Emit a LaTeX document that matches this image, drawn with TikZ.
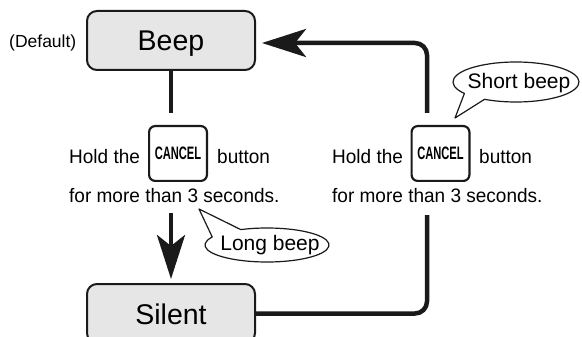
\documentclass[tikz,border=0pt]{standalone}
\usepackage{fontspec}
\setmainfont{Liberation Sans}
\newfontfamily\cancelfont[FakeStretch=0.62]{Liberation Sans}
\newfontfamily\labelfont[FakeStretch=0.975]{Liberation Sans}
\usetikzlibrary{arrows.meta,calc}
\definecolor{ink}{HTML}{1A1A1A}
\definecolor{boxfill}{HTML}{E6E6E6}
\begin{document}
\begin{tikzpicture}[x=1pt,y=-1pt,
  state/.style={draw=ink, line width=2pt, fill=boxfill, rounded corners=10pt,
    minimum width=168pt, minimum height=59pt, inner sep=0pt,
    text height=21pt, text depth=-1pt,
    font=\fontsize{28.5}{30}\selectfont},
  keybox/.style={draw=ink, line width=2.2pt, rounded corners=6pt,
    minimum width=57.8pt, minimum height=54.8pt, inner sep=0pt,
    font=\cancelfont\bfseries\fontsize{18}{20}\selectfont},
  lbl/.style={anchor=base west, inner sep=0pt, font=\labelfont\fontsize{19.5}{21}\selectfont},
  flow/.style={line width=4.5pt, draw=ink},
  tip/.style={-{Stealth[length=44pt, width=28pt, inset=11pt]}},
  bubble/.style={draw=ink, line width=1.2pt, fill=white, line join=round},
  btext/.style={inner sep=0pt, font=\fontsize{21}{23}\selectfont},
]
\useasboundingbox (0,0) rectangle (582,337);
\clip (0,0) rectangle (582,337);

% states
\node[state] (beep) at (171,40.5) {Beep};
\node[state] (silent) at (171,313.5) {Silent};
\node[anchor=west, inner sep=0pt, font=\fontsize{17.5}{19}\selectfont] (default) at (9,43) {(Default)};

% left instruction
\node[lbl] (hold1) at (69,164) {Hold the};
\node[keybox] (cancel1) at (178,153.5) {CANCEL};
\node[lbl] (button1) at (217,164) {button};
\node[lbl] (more1) at (69,202) {for more than 3 seconds.};

% right instruction
\node[lbl] (hold2) at (332,164) {Hold the};
\node[keybox] (cancel2) at (440.5,153.5) {CANCEL};
\node[lbl] (button2) at (479,164) {button};
\node[lbl] (more2) at (332,202) {for more than 3 seconds.};

% connector end points
\coordinate (btop) at (171,113);
\coordinate (dstart) at (171,213);
\coordinate (rtop) at (427,113);
\coordinate (rbot) at (427,215);

% connectors
\draw[flow] (beep.south) -- (btop);
\draw[flow, tip, shorten >=4pt] (dstart) -- (silent.north);
\draw[flow, rounded corners=12pt] (silent.east) -| (rbot);
\draw[flow, tip, rounded corners=12pt, shorten >=6pt] (rtop) |- ([yshift=-2.5pt]beep.east);

% speech bubbles
\coordinate (sb) at (516,82);
\coordinate (sbtip) at (455,118);
\draw[bubble] (sbtip) -- ($(sb)+(215:63pt and 20pt)$)
  arc[start angle=215, end angle=-120, x radius=63pt, y radius=20pt] -- cycle;
\node[btext] (short) at (519,83) {Short beep};

\coordinate (lb) at (267,245);
\coordinate (lbtip) at (199,209);
\draw[bubble] (lbtip) -- ($(lb)+(152:62pt and 17pt)$)
  arc[start angle=152, end angle=475, x radius=62pt, y radius=17pt] -- cycle;
\node[btext] (long) at (270,245) {Long beep};
\end{tikzpicture}
\end{document}
